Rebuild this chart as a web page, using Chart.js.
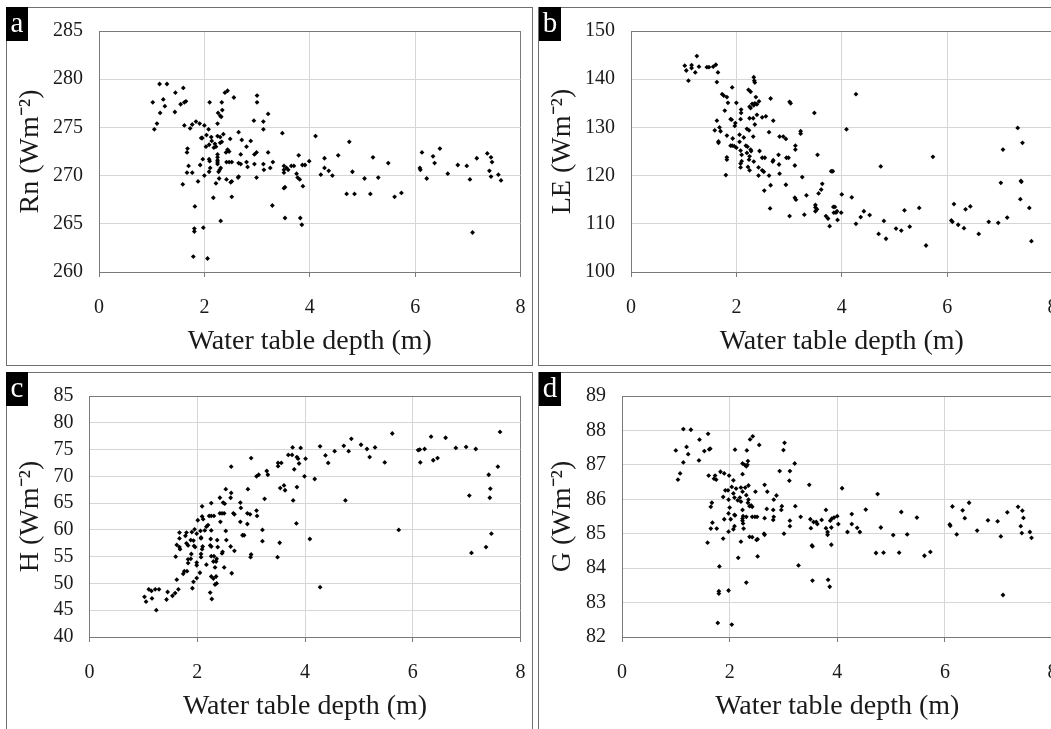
<!DOCTYPE html>
<html><head><meta charset="utf-8">
<script src="https://cdn.jsdelivr.net/npm/chart.js@4.4.0/dist/chart.umd.min.js"></script>
<style>
html,body{margin:0;padding:0;background:#fff;overflow:hidden;width:1051px;height:729px;position:relative;}
.frame{position:absolute;box-sizing:border-box;border:1px solid #6f6f6f;width:527px;height:359px;}
.holder{position:absolute;width:526px;height:358px;}
.tag{position:absolute;width:22px;height:34px;background:#000;color:#fff;font-family:"Liberation Serif",serif;font-size:29px;line-height:30px;text-align:center;}
</style></head>
<body>
<div class="frame" style="left:6px;top:7px"></div>
<div class="frame" style="left:538px;top:7px"></div>
<div class="frame" style="left:6px;top:372px"></div>
<div class="frame" style="left:538px;top:372px"></div>
<div class="holder" style="left:6px;top:7px"><canvas id="ca" width="526" height="358"></canvas></div>
<div class="holder" style="left:538px;top:7px"><canvas id="cb" width="526" height="358"></canvas></div>
<div class="holder" style="left:6px;top:372px"><canvas id="cc" width="526" height="358"></canvas></div>
<div class="holder" style="left:538px;top:372px"><canvas id="cd" width="526" height="358"></canvas></div>
<div class="tag" style="left:6px;top:7px">a</div>
<div class="tag" style="left:539px;top:7px">b</div>
<div class="tag" style="left:6px;top:372px">c</div>
<div class="tag" style="left:539px;top:372px">d</div>
<script>
const xTicks = [0, 2, 4, 6, 8];
const panelLetters = ['a', 'b', 'c', 'd'];
const xTitle = 'Water table depth (m)';
const yTitles = ['Rn (Wm\u207B\u00B2)', 'LE (Wm\u207B\u00B2)', 'H (Wm\u207B\u00B2)', 'G (Wm\u207B\u00B2)'];
const yRangeA = [260, 285, 5];
const yRangeB = [100, 150, 10];
const yRangeC = [40, 85, 5];
const yRangeD = [82, 89, 1];

// Panel a: water table depth (m), Rn (W m-2)
const rnData = [
[1.15,279.5],[1.29,279.5],[1.60,279.1],[1.45,278.6],[2.44,278.8],[2.39,278.6],[1.02,277.6],[1.22,277.9],
[1.25,277.2],[1.65,277.7],[1.55,277.4],[1.62,277.6],[2.10,277.6],[2.33,277.6],[2.56,278.1],[3.00,278.3],
[3.00,277.6],[1.16,276.5],[1.44,276.6],[2.26,276.5],[2.30,276.2],[2.34,276.8],[2.32,276.1],[3.21,276.4],
[1.10,275.4],[1.05,274.8],[1.62,275.2],[1.73,274.9],[1.77,275.3],[1.84,275.6],[1.91,275.4],[2.00,275.2],
[2.25,275.4],[2.94,275.7],[3.12,275.6],[3.12,274.8],[2.08,274.8],[3.48,274.4],[1.94,273.9],[1.96,273.9],
[2.04,274.2],[2.13,274.0],[2.25,274.1],[2.30,274.0],[2.36,274.3],[2.49,273.8],[2.65,274.5],[2.71,273.7],
[2.88,273.6],[2.14,273.6],[2.20,273.3],[2.30,273.4],[2.33,273.5],[2.03,273.0],[2.09,273.2],[2.80,273.0],
[2.44,272.7],[2.47,272.5],[2.41,272.4],[1.68,272.8],[1.67,272.4],[2.18,272.9],[2.22,273.0],[2.69,272.2],
[2.95,272.2],[2.99,272.4],[3.21,272.4],[3.79,272.1],[1.97,271.7],[2.09,271.7],[2.10,271.5],[2.25,272.2],
[2.25,271.9],[2.25,271.6],[2.25,271.4],[2.25,271.2],[2.42,271.4],[2.47,271.4],[2.52,271.4],[2.65,271.3],
[2.69,271.2],[2.80,271.4],[2.82,270.9],[2.95,271.2],[3.12,271.2],[3.13,270.6],[3.30,271.4],[3.25,270.8],
[1.92,271.1],[1.70,271.0],[1.67,270.3],[1.77,270.3],[2.11,270.8],[2.09,270.4],[2.29,270.6],[2.27,270.4],
[2.31,270.8],[2.00,270.0],[1.59,269.1],[1.88,269.4],[2.22,269.2],[2.28,269.7],[2.42,269.6],[2.50,269.3],
[2.52,269.4],[2.64,269.8],[2.65,269.9],[2.99,269.8],[3.51,271.0],[3.56,270.8],[3.59,270.6],[3.65,271.0],
[3.70,271.0],[3.51,270.3],[3.51,270.6],[3.75,270.2],[3.77,269.8],[3.81,269.6],[3.86,271.1],[3.91,271.1],
[3.99,271.5],[3.87,268.9],[3.51,268.7],[3.53,268.8],[2.17,267.7],[2.52,267.8],[3.29,266.9],[1.82,266.8],
[2.31,265.3],[3.53,265.6],[3.82,265.6],[3.85,264.9],[1.81,264.5],[1.81,264.2],[1.98,264.6],[1.79,261.6],
[2.06,261.4],[4.11,274.1],[4.21,270.1],[4.28,271.8],[4.28,270.8],[4.36,270.5],[4.43,270.0],[4.54,272.1],
[4.75,273.5],[4.70,268.1],[4.85,268.1],[4.81,270.4],[5.04,269.7],[5.15,268.1],[5.20,271.9],[5.30,269.8],
[5.49,271.3],[5.61,267.8],[5.74,268.2],[6.09,270.8],[6.10,270.6],[6.13,272.4],[6.22,269.7],[6.34,272.0],
[6.37,271.3],[6.47,272.8],[6.62,270.2],[6.81,271.1],[6.98,271.0],[7.04,269.6],[7.09,264.1],[7.17,271.8],
[7.37,272.3],[7.44,271.9],[7.46,271.4],[7.41,270.5],[7.44,269.9],[7.58,270.1],[7.63,269.5]
];

// Panel b: water table depth (m), LE (W m-2)
const leData = [
[1.25,144.8],[1.02,142.8],[1.05,141.8],[1.15,142.9],[1.15,142.3],[1.22,141.4],[1.29,142.6],[1.44,142.5],
[1.48,142.5],[1.56,142.6],[1.61,143.0],[1.65,141.4],[1.09,139.7],[1.63,139.4],[2.33,140.4],[2.34,139.7],
[2.35,139.3],[1.92,138.3],[2.23,137.8],[2.27,137.4],[2.65,136.0],[1.73,136.9],[1.76,136.6],[1.82,136.3],
[1.84,135.1],[2.00,135.1],[2.37,136.3],[2.43,135.4],[2.30,134.9],[2.33,134.6],[2.35,135.0],[2.39,134.8],
[2.25,134.3],[2.27,134.0],[2.09,133.7],[2.09,133.0],[1.78,133.5],[3.01,135.3],[3.03,135.0],[3.48,133.0],
[2.49,132.1],[2.56,132.3],[2.39,132.6],[2.32,131.9],[2.25,131.9],[2.70,131.4],[2.08,131.7],[1.89,131.7],
[1.91,131.6],[1.98,130.9],[1.97,130.3],[1.63,131.4],[1.68,130.0],[1.59,129.4],[1.70,129.2],[2.20,129.7],
[2.24,129.4],[2.35,130.6],[2.62,129.0],[3.22,129.2],[3.22,128.7],[2.82,128.1],[2.89,128.1],[2.94,127.6],
[1.66,127.1],[1.66,126.8],[1.82,128.3],[1.93,127.7],[2.06,128.5],[2.14,127.9],[2.32,128.1],[1.89,126.2],
[1.92,126.2],[1.96,126.1],[2.00,125.8],[2.06,127.0],[2.08,125.2],[2.18,126.2],[2.21,126.0],[2.20,124.7],
[2.27,125.4],[2.28,125.1],[2.44,125.1],[3.12,126.2],[3.12,125.4],[3.54,124.3],[1.82,123.8],[1.82,123.3],
[2.10,124.3],[2.10,123.0],[2.25,124.0],[2.24,123.3],[2.33,122.9],[2.49,123.7],[2.54,123.7],[2.70,123.2],
[2.69,122.9],[2.80,124.3],[2.95,123.7],[2.99,123.7],[2.08,122.5],[2.08,121.7],[2.22,121.8],[2.25,121.1],
[2.42,121.7],[2.49,121.1],[2.52,120.8],[2.81,122.3],[3.11,122.1],[1.80,120.1],[2.42,120.0],[2.62,120.0],
[2.82,120.4],[3.25,119.7],[2.53,116.9],[2.65,118.0],[2.94,118.1],[3.80,120.9],[3.83,120.9],[3.56,116.3],
[3.63,118.3],[3.61,117.1],[3.11,115.4],[3.13,115.0],[3.33,115.9],[3.50,113.9],[3.50,113.4],[3.53,113.0],
[3.50,112.6],[2.64,113.2],[3.01,111.6],[3.29,111.9],[3.70,111.6],[3.74,111.1],[3.77,109.5],[3.84,113.5],
[3.87,113.5],[3.85,112.3],[3.89,112.3],[3.91,112.6],[3.92,110.8],[3.99,112.3],[4.00,116.1],[4.09,129.6],
[4.19,115.5],[4.27,136.9],[4.27,110.0],[4.36,111.4],[4.42,112.6],[4.53,111.8],[4.70,107.9],[4.74,121.9],
[4.80,110.6],[4.84,106.9],[5.03,109.0],[5.13,108.6],[5.19,112.8],[5.29,109.4],[5.47,113.3],[5.60,105.5],
[5.73,123.9],[6.08,110.7],[6.10,110.4],[6.13,114.1],[6.21,109.8],[6.32,109.1],[6.35,113.0],[6.44,113.6],
[6.60,107.9],[6.79,110.4],[6.97,110.2],[7.02,118.5],[7.06,125.4],[7.14,111.3],[7.34,129.9],[7.39,115.1],
[7.40,118.9],[7.41,118.7],[7.43,126.8],[7.56,113.3],[7.60,106.4]
];

// Panel c: water table depth (m), H (W m-2)
const hData = [
[1.02,47.5],[1.05,46.6],[1.10,48.9],[1.15,48.6],[1.16,47.2],[1.22,48.9],[1.29,48.9],[1.24,45.0],
[1.43,47.0],[1.45,48.4],[1.54,47.7],[1.59,48.2],[1.65,48.9],[1.62,50.7],[1.60,55.0],[1.62,57.2],
[1.67,56.8],[1.68,56.4],[1.67,59.5],[1.67,58.4],[3.77,75.4],[3.92,75.3],[3.69,74.0],[3.76,74.0],
[3.85,73.6],[3.87,73.3],[3.89,72.4],[4.01,73.3],[3.00,73.4],[2.63,71.8],[3.50,72.5],[3.50,71.9],
[3.56,72.5],[3.29,71.0],[3.31,70.3],[3.10,70.0],[3.14,70.3],[3.80,71.3],[3.99,70.0],[4.18,69.5],
[3.54,67.8],[3.61,68.3],[3.63,67.4],[3.85,68.0],[3.78,65.5],[2.53,67.6],[2.63,66.9],[2.62,66.0],
[2.42,66.0],[2.48,65.1],[2.51,64.9],[2.94,67.6],[3.25,65.8],[2.26,65.0],[2.09,64.4],[2.80,65.1],
[2.81,64.1],[2.22,62.6],[2.26,62.6],[2.31,62.6],[2.42,63.1],[2.46,63.1],[2.50,63.1],[2.67,63.1],
[2.69,62.9],[2.93,63.1],[2.98,62.9],[3.10,63.6],[3.11,62.6],[2.09,62.5],[2.11,62.0],[2.01,61.8],
[2.20,60.9],[2.17,60.6],[2.43,61.5],[2.80,61.5],[2.93,61.1],[3.84,61.2],[1.95,60.1],[1.99,59.3],
[1.80,59.5],[1.78,58.9],[1.90,59.6],[2.06,59.8],[2.07,58.6],[2.14,59.9],[2.26,59.9],[2.53,59.8],
[3.21,60.0],[4.09,58.3],[1.80,57.5],[1.83,57.1],[1.88,58.1],[1.93,58.0],[1.94,57.0],[1.96,56.8],
[2.07,58.4],[2.25,58.3],[2.24,57.1],[2.37,58.1],[2.54,58.1],[2.84,59.0],[2.87,59.0],[3.21,57.9],
[3.53,57.6],[2.10,56.9],[2.09,56.4],[2.26,56.9],[2.38,56.8],[2.62,56.9],[2.69,56.1],[2.26,55.1],
[2.31,55.1],[2.30,54.1],[2.46,55.6],[2.47,55.9],[2.99,54.9],[3.00,55.4],[3.49,54.9],[2.07,55.5],
[2.07,54.9],[1.89,55.5],[1.88,54.6],[1.99,53.9],[1.99,53.4],[1.83,54.5],[1.83,53.8],[2.17,53.5],
[2.35,54.1],[2.36,54.6],[2.50,53.0],[2.64,51.9],[1.76,52.3],[1.74,51.8],[1.81,52.3],[1.93,50.3],
[1.99,51.0],[2.05,52.0],[2.33,53.0],[2.26,51.3],[2.30,50.9],[2.35,51.3],[2.33,49.8],[2.36,50.0],
[1.91,49.1],[2.24,48.3],[2.27,47.1],[4.28,49.3],[4.28,75.6],[4.38,73.9],[4.43,72.5],[4.55,74.7],
[4.72,75.7],[4.81,74.7],[4.86,77.0],[4.75,65.5],[5.04,75.9],[5.15,75.1],[5.20,73.6],[5.30,75.4],
[5.48,72.6],[5.62,78.0],[5.74,60.0],[6.10,74.9],[6.13,75.0],[6.14,72.6],[6.22,75.1],[6.34,77.4],
[6.38,73.0],[6.46,73.4],[6.61,77.2],[6.80,75.3],[6.99,75.5],[7.05,66.4],[7.09,55.7],[7.17,75.1],
[7.36,56.8],[7.41,70.3],[7.44,67.7],[7.43,66.0],[7.46,59.3],[7.58,71.8],[7.62,78.3]
];

// Panel d: water table depth (m), G (W m-2)
const gData = [
[1.14,88.04],[1.28,88.02],[1.60,87.90],[1.44,87.73],[1.00,87.42],[1.20,87.52],[1.23,87.31],[1.14,87.07],
[1.53,87.40],[1.62,87.45],[1.64,87.47],[1.43,87.13],[2.10,87.44],[2.32,87.42],[2.38,87.74],[2.43,87.83],
[2.55,87.58],[3.02,87.64],[3.00,87.43],[1.08,86.75],[1.04,86.57],[3.21,87.04],[2.24,87.04],[2.28,87.00],
[2.31,86.96],[2.34,87.11],[2.33,87.00],[1.61,86.69],[1.73,86.69],[1.75,86.57],[1.83,86.80],[1.90,86.75],
[1.99,86.69],[1.71,86.60],[2.07,86.55],[2.24,86.73],[2.93,86.82],[3.12,86.82],[3.11,86.54],[3.48,86.42],
[4.09,86.32],[1.92,86.26],[1.97,86.26],[2.04,86.36],[2.12,86.31],[2.21,86.34],[2.29,86.34],[2.35,86.40],
[1.88,86.07],[1.98,85.99],[2.07,86.17],[2.09,86.05],[2.15,85.97],[2.19,86.05],[2.24,86.22],[2.31,86.12],
[2.48,86.22],[2.65,86.42],[2.70,86.22],[2.82,85.99],[2.87,86.11],[1.67,85.90],[1.65,85.78],[2.21,85.93],
[2.37,85.80],[2.40,85.82],[2.42,85.78],[2.35,85.99],[2.34,85.90],[2.00,85.76],[1.98,85.59],[2.09,85.55],
[2.10,85.53],[2.24,85.69],[2.25,85.51],[2.24,85.44],[2.24,85.38],[2.31,85.49],[2.42,85.49],[2.47,85.49],
[2.51,85.49],[2.65,85.45],[2.69,85.72],[2.81,85.69],[2.82,85.49],[2.81,85.40],[2.96,85.69],[2.97,85.80],
[3.12,85.38],[3.12,85.22],[3.22,85.80],[3.32,85.49],[3.50,85.42],[3.51,85.16],[3.56,85.34],[3.61,85.34],
[3.63,85.28],[3.71,85.40],[3.79,85.69],[3.79,85.16],[3.82,85.05],[3.82,84.97],[3.87,85.38],[3.90,85.44],
[3.94,85.47],[4.00,85.51],[4.02,85.28],[4.19,85.05],[4.27,85.57],[4.27,85.28],[4.37,85.17],[4.42,85.05],
[1.68,85.32],[1.65,85.15],[1.76,85.15],[1.90,85.42],[1.98,85.06],[2.07,85.13],[2.09,85.22],[2.02,85.42],
[2.25,85.30],[2.26,85.15],[2.21,84.77],[1.88,84.86],[1.59,84.74],[2.37,84.91],[2.42,84.90],[2.50,84.82],
[2.52,84.84],[2.64,85.00],[2.65,84.97],[3.01,85.00],[2.16,84.30],[2.52,84.34],[1.81,84.05],[1.80,83.33],
[1.80,83.26],[1.98,83.35],[2.31,83.58],[1.78,82.41],[2.04,82.36],[3.28,84.08],[3.53,84.66],[3.54,84.63],
[3.54,83.64],[3.83,83.66],[3.86,83.46],[3.89,84.68],[3.89,85.18],[4.53,85.70],[4.75,86.15],[4.72,84.44],
[4.86,84.45],[4.81,85.18],[5.04,84.96],[5.15,84.45],[5.19,85.63],[5.30,84.98],[5.48,85.47],[5.62,84.36],
[5.73,84.47],[6.09,85.27],[6.10,85.23],[6.14,85.79],[6.22,84.98],[6.33,85.68],[6.37,85.45],[6.45,85.90],
[6.60,85.09],[6.80,85.39],[6.98,85.36],[7.04,84.92],[7.08,83.22],[7.16,85.62],[7.36,85.78],[7.44,85.67],
[7.46,85.46],[7.41,85.22],[7.43,85.02],[7.58,85.05],[7.61,84.88]
];

const FONT = '"Liberation Serif", "Times New Roman", serif';
const GRID = '#d6d6d6';
const FRAME = '#7a7a7a';
const TEXT = '#1a1a1a';

function makePanel(canvasId, points, yRange, yTitle, yWidth) {
  const [yMin, yMax, yStep] = yRange;
  return new Chart(document.getElementById(canvasId), {
    type: 'scatter',
    data: {
      datasets: [{
        data: points.map(p => ({x: p[0], y: p[1]})),
        pointStyle: 'rectRot',
        pointRadius: 2.4,
        pointBorderWidth: 0,
        backgroundColor: '#000',
        borderColor: '#000'
      }]
    },
    options: {
      responsive: false,
      animation: false,
      devicePixelRatio: 1,
      layout: {padding: {top: 24, right: 11.5, left: 0, bottom: 0}},
      plugins: {legend: {display: false}, tooltip: {enabled: false}},
      scales: {
        x: {
          type: 'linear', min: xTicks[0], max: xTicks[xTicks.length - 1],
          afterBuildTicks: s => { s.ticks = xTicks.map(v => ({value: v})); },
          ticks: {padding: 19, autoSkip: false, color: TEXT, font: {family: FONT, size: 20}},
          grid: {
            color: c => (c.tick && c.tick.value === xTicks[xTicks.length - 1]) ? FRAME : GRID,
            tickColor: FRAME, tickLength: 5, drawTicks: true, lineWidth: 1
          },
          border: {color: FRAME, width: 1},
          title: {display: true, text: xTitle, color: TEXT, font: {family: FONT, size: 28}, padding: {top: 0, bottom: 7}},
          afterFit: s => { s.height = 93; s.paddingLeft = 0; s.paddingRight = 0; }
        },
        y: {
          min: yMin, max: yMax,
          ticks: {stepSize: yStep, padding: 16, autoSkip: false, color: TEXT, font: {family: FONT, size: 20}},
          grid: {
            color: c => (c.tick && c.tick.value === yMax) ? FRAME : GRID,
            drawTicks: false, lineWidth: 1
          },
          border: {color: FRAME, width: 1},
          title: {display: true, text: yTitle, color: TEXT, font: {family: FONT, size: 28}, padding: {top: 8, bottom: 0}},
          afterFit: s => { s.width = yWidth; s.paddingTop = 0; s.paddingBottom = 0; }
        }
      }
    }
  });
}

makePanel('ca', rnData, yRangeA, yTitles[0], 93);
makePanel('cb', leData, yRangeB, yTitles[1], 93);
makePanel('cc', hData, yRangeC, yTitles[2], 83.5);
makePanel('cd', gData, yRangeD, yTitles[3], 84);
</script>
</body></html>
